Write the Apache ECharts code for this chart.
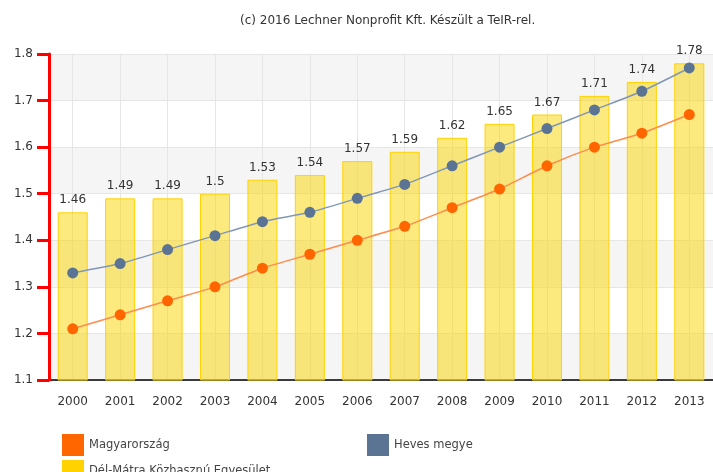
<!DOCTYPE html>
<html>
<head>
<meta charset="utf-8">
<script src="https://cdn.jsdelivr.net/npm/echarts@6/dist/echarts.min.js"></script>
<style>
  html, body { margin: 0; padding: 0; background: #fff; }
  #chart { width: 713px; height: 472px; }
</style>
</head>
<body>
<div id="chart"></div>
<script>
var years = ['2000', '2001', '2002', '2003', '2004', '2005', '2006', '2007', '2008', '2009', '2010', '2011', '2012', '2013']
var delMatra = [1.46, 1.49, 1.49, 1.5, 1.53, 1.54, 1.57, 1.59, 1.62, 1.65, 1.67, 1.71, 1.74, 1.78]
var magyarorszag = [1.21, 1.24, 1.27, 1.30, 1.34, 1.37, 1.40, 1.43, 1.47, 1.51, 1.56, 1.60, 1.63, 1.67]
var heves = [1.33, 1.35, 1.38, 1.41, 1.44, 1.46, 1.49, 1.52, 1.56, 1.60, 1.64, 1.68, 1.72, 1.77]

var font = 'DejaVu Sans'
var legendText = { fontSize: 11.5, color: '#444', fontFamily: font }

var chartDom = document.getElementById('chart')
var myChart = echarts.init(chartDom)

var option = {
  animation: false,
  textStyle: { fontFamily: font },
  title: {
    text: '(c) 2016 Lechner Nonprofit Kft. Készült a TeIR-rel.',
    left: 235,
    top: 10,
    textStyle: { fontSize: 12, fontWeight: 'normal', color: '#333', fontFamily: font }
  },
  legend: [
    {
      data: ['Magyarország'],
      left: 57, top: 429,
      icon: 'rect', itemWidth: 22, itemHeight: 22,
      textStyle: legendText
    },
    {
      data: ['Heves megye'],
      left: 362, top: 429,
      icon: 'rect', itemWidth: 22, itemHeight: 22,
      textStyle: legendText
    },
    {
      data: [{
        name: 'Dél-Mátra Közhasznú Egyesület',
        itemStyle: { color: '#ffd200', borderWidth: 0 }
      }],
      left: 57, top: 455,
      icon: 'rect', itemWidth: 22, itemHeight: 22,
      textStyle: legendText
    }
  ],
  grid: {
    left: 49,
    right: -8,
    top: 54,
    bottom: 92
  },
  xAxis: {
    type: 'category',
    data: years,
    axisLine: { lineStyle: { color: '#000', width: 1.5 } },
    axisTick: { alignWithLabel: true, length: 6, lineStyle: { color: '#000' } },
    axisLabel: { color: '#333', fontSize: 12, margin: 16, interval: 0 },
    splitLine: { show: true, alignWithLabel: true, lineStyle: { color: '#e6e6e6' } }
  },
  yAxis: [
    {
      // bands and grid lines, under the series
      type: 'value',
      min: 1.1,
      max: 1.8,
      interval: 0.1,
      axisLine: { show: false },
      axisTick: { show: false },
      axisLabel: { show: false },
      splitLine: { lineStyle: { color: '#e6e6e6' } },
      splitArea: { show: true, areaStyle: { color: ['#f5f5f5', '#ffffff'] } }
    },
    {
      // axis line, ticks and labels, on top
      type: 'value',
      position: 'left',
      min: 1.1,
      max: 1.8,
      interval: 0.1,
      axisLine: { show: true, onZero: false, lineStyle: { color: '#ff0000', width: 3 } },
      axisTick: { show: true, length: 12, lineStyle: { color: '#ff0000', width: 3 } },
      axisLabel: { color: '#333', fontSize: 12, margin: 16 },
      splitLine: { show: false },
      z: 20
    }
  ],
  series: [
    {
      name: 'Dél-Mátra Közhasznú Egyesület',
      type: 'bar',
      data: delMatra,
      barWidth: 30,
      itemStyle: {
        color: 'rgba(252, 214, 0, 0.5)',
        borderColor: '#ffd200',
        borderWidth: 1
      },
      label: {
        show: true,
        position: 'top',
        distance: 6,
        color: '#333',
        fontSize: 12,
        fontFamily: font
      },
      z: 2
    },
    {
      name: 'Heves megye',
      type: 'line',
      data: heves,
      smooth: 0.2,
      symbol: 'circle',
      symbolSize: 11,
      itemStyle: { color: '#5b7494' },
      lineStyle: { color: '#8197b3', width: 1.5 },
      z: 3
    },
    {
      name: 'Magyarország',
      type: 'line',
      data: magyarorszag,
      smooth: 0.2,
      symbol: 'circle',
      symbolSize: 11,
      itemStyle: { color: '#ff6600' },
      lineStyle: { color: '#ff8c4a', width: 1.5 },
      z: 3
    }
  ]
}

option && myChart.setOption(option)
</script>
</body>
</html>
